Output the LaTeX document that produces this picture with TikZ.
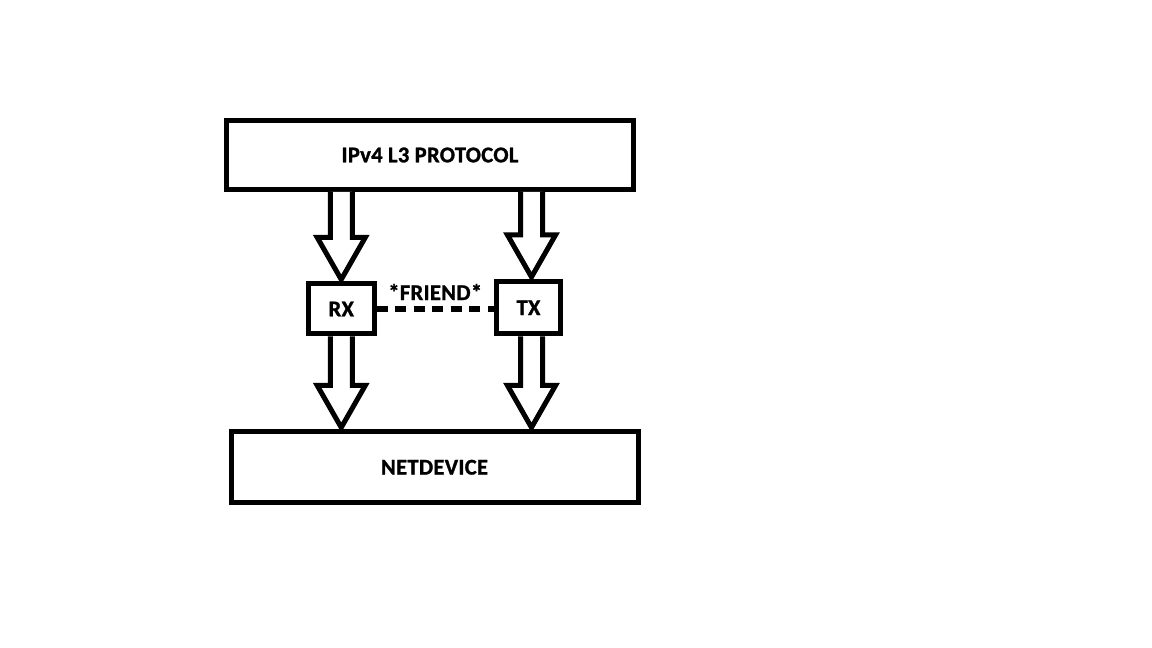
\documentclass[tikz,border=0pt]{standalone}
\usepackage{fontspec}
\setmainfont{Carlito}[LetterSpace=1.5, BoldFeatures={FakeBold=1.2}]
\usetikzlibrary{calc}
\tikzset{
  blockbox/.style={draw=black, line width=5pt, fill=white, inner sep=0pt,
    font=\fontsize{22.5}{26}\selectfont\bfseries},
  blockarrow/.style={draw=black, line width=5pt, fill=white, line join=miter},
  friendline/.style={draw=black, line width=6pt, dash pattern=on 11pt off 7.5pt},
  lbl/.style={font=\fontsize{22.5}{26}\selectfont\bfseries, inner sep=0pt}
}
\newcommand{\bigarrow}[2]{%
  \draw[blockarrow] ($(#1)+(-11,0)$) -- ($(#2)+(-11,44)$) -- ($(#2)+(-24,44)$)
    -- ($(#2)+(0,2)$) -- ($(#2)+(24,44)$) -- ($(#2)+(11,44)$) -- ($(#1)+(11,0)$);}
\begin{document}
\begin{tikzpicture}[x=1pt,y=1pt]
\useasboundingbox[fill=white] (0,0) rectangle (1152,648);
\node[blockbox, minimum width=407pt, minimum height=69pt] (ip) at (430,493) {IPv4 L3 PROTOCOL};
\node[blockbox, minimum width=407pt, minimum height=70.5pt] (nd) at (434.5,180.75) {NETDEVICE};
\node[blockbox, minimum width=65.5pt, minimum height=50pt] (rx) at (341.25,339) {RX};
\node[blockbox, minimum width=64pt, minimum height=52.5pt] (tx) at (528.5,340.25) {TX};
\coordinate (rxtop) at (rx.north |- ip.south);
\coordinate (txtop) at ($(tx.north |- ip.south)+(3,0)$);
\coordinate (txin) at ($(tx.north)+(3,0)$);
\coordinate (rxout) at (rx.south |- nd.north);
\coordinate (txs) at ($(tx.south)+(3,0)$);
\coordinate (txout) at ($(tx.south |- nd.north)+(3,0)$);
\bigarrow{rxtop}{rx.north}
\bigarrow{txtop}{txin}
\bigarrow{rx.south}{rxout}
\bigarrow{txs}{txout}
\draw[friendline] (rx.east) -- (rx.east -| tx.west)
  node[lbl, midway, yshift=17pt] (fr) {*FRIEND*};
\end{tikzpicture}
\end{document}
